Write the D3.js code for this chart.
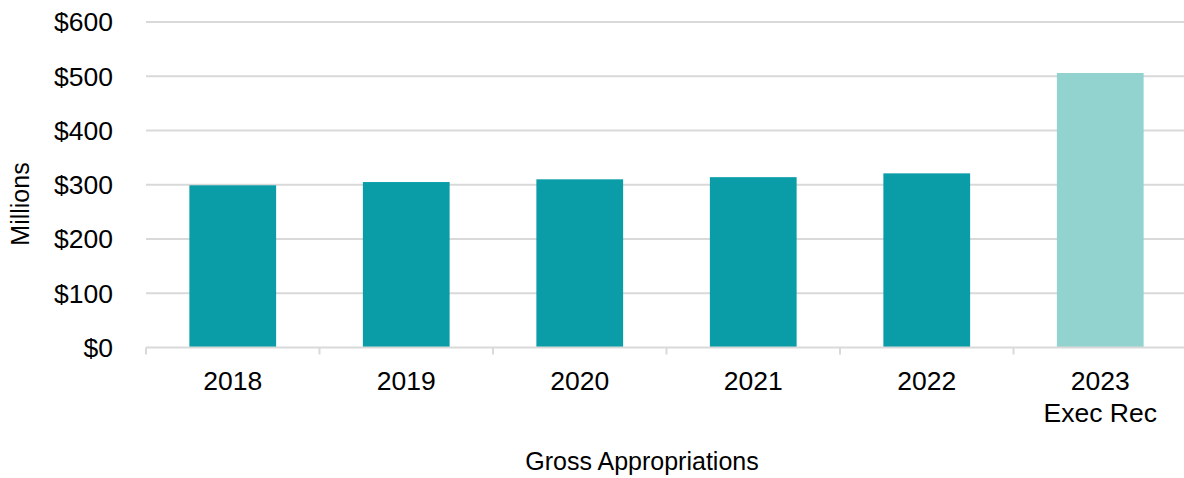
<!DOCTYPE html>
<html>
<head>
<meta charset="utf-8">
<script src="https://cdn.jsdelivr.net/npm/d3@7/dist/d3.min.js"></script>
<style>
  html, body { margin: 0; padding: 0; background: #fff; }
  svg { display: block; font-family: "Liberation Sans", Arial, sans-serif; }
</style>
</head>
<body>
<svg id="chart" width="1184" height="478"></svg>
<script>
const categories = ["2018", "2019", "2020", "2021", "2022", "2023\nExec Rec"];
const values = [299, 305, 310, 314, 321, 506];
const barColors = ["#0A9DA8", "#0A9DA8", "#0A9DA8", "#0A9DA8", "#0A9DA8", "#92D2CF"];
const yTicks = [0, 100, 200, 300, 400, 500, 600];
const yTitle = "Millions";
const xTitle = "Gross Appropriations";

const svg = d3.select("#chart");
const plotLeft = 146, plotRight = 1187, plotTop = 22, plotBottom = 347.5;

const x = d3.scaleBand().domain(categories).range([plotLeft, plotRight]).paddingInner(0.5).paddingOuter(0.25);
const xb = d3.scaleBand().domain(categories).range([plotLeft, plotRight]);
const y = d3.scaleLinear().domain([0, 600]).range([plotBottom, plotTop]);

// gridlines
svg.append("g").selectAll("line").data(yTicks.filter(d => d > 0)).join("line")
  .attr("x1", plotLeft).attr("x2", 1184)
  .attr("y1", d => y(d)).attr("y2", d => y(d))
  .attr("stroke", "#D9D9D9").attr("stroke-width", 2);

// bars
svg.append("g").selectAll("rect").data(values).join("rect")
  .attr("x", (d, i) => x(categories[i]))
  .attr("width", x.bandwidth())
  .attr("y", d => y(d))
  .attr("height", d => y(0) - y(d))
  .attr("fill", (d, i) => barColors[i]);

// x axis line and ticks
const xAxis = svg.append("g");
xAxis.append("line").attr("x1", plotLeft).attr("x2", 1184).attr("y1", y(0)).attr("y2", y(0))
  .attr("stroke", "#D9D9D9").attr("stroke-width", 2);
xAxis.selectAll("line.tk").data(categories).join("line").attr("class", "tk")
  .attr("x1", d => xb(d)).attr("x2", d => xb(d))
  .attr("y1", y(0)).attr("y2", y(0) + 7)
  .attr("stroke", "#D9D9D9").attr("stroke-width", 2);

// x labels
const xl = svg.append("g").selectAll("text").data(categories).join("text")
  .attr("text-anchor", "middle")
  .attr("font-size", 26.5)
  .attr("fill", "#000");
xl.each(function(d) {
  const t = d3.select(this);
  d.split("\n").forEach((line, i) => {
    t.append("tspan").attr("x", xb(d) + xb.bandwidth() / 2).attr("y", 389.5 + i * 32).text(line);
  });
});

// y labels
svg.append("g").selectAll("text").data(yTicks).join("text")
  .attr("x", 113).attr("y", d => y(d)).attr("dy", "0.35em")
  .attr("text-anchor", "end").attr("font-size", 26.5).attr("fill", "#000")
  .text(d => "$" + d);

// titles
svg.append("text").attr("transform", "translate(28.5,204) rotate(-90)")
  .attr("text-anchor", "middle").attr("font-size", 25).attr("fill", "#000").text(yTitle);
svg.append("text").attr("x", 642).attr("y", 470)
  .attr("text-anchor", "middle").attr("font-size", 25).attr("fill", "#000").text(xTitle);
</script>
</body>
</html>
